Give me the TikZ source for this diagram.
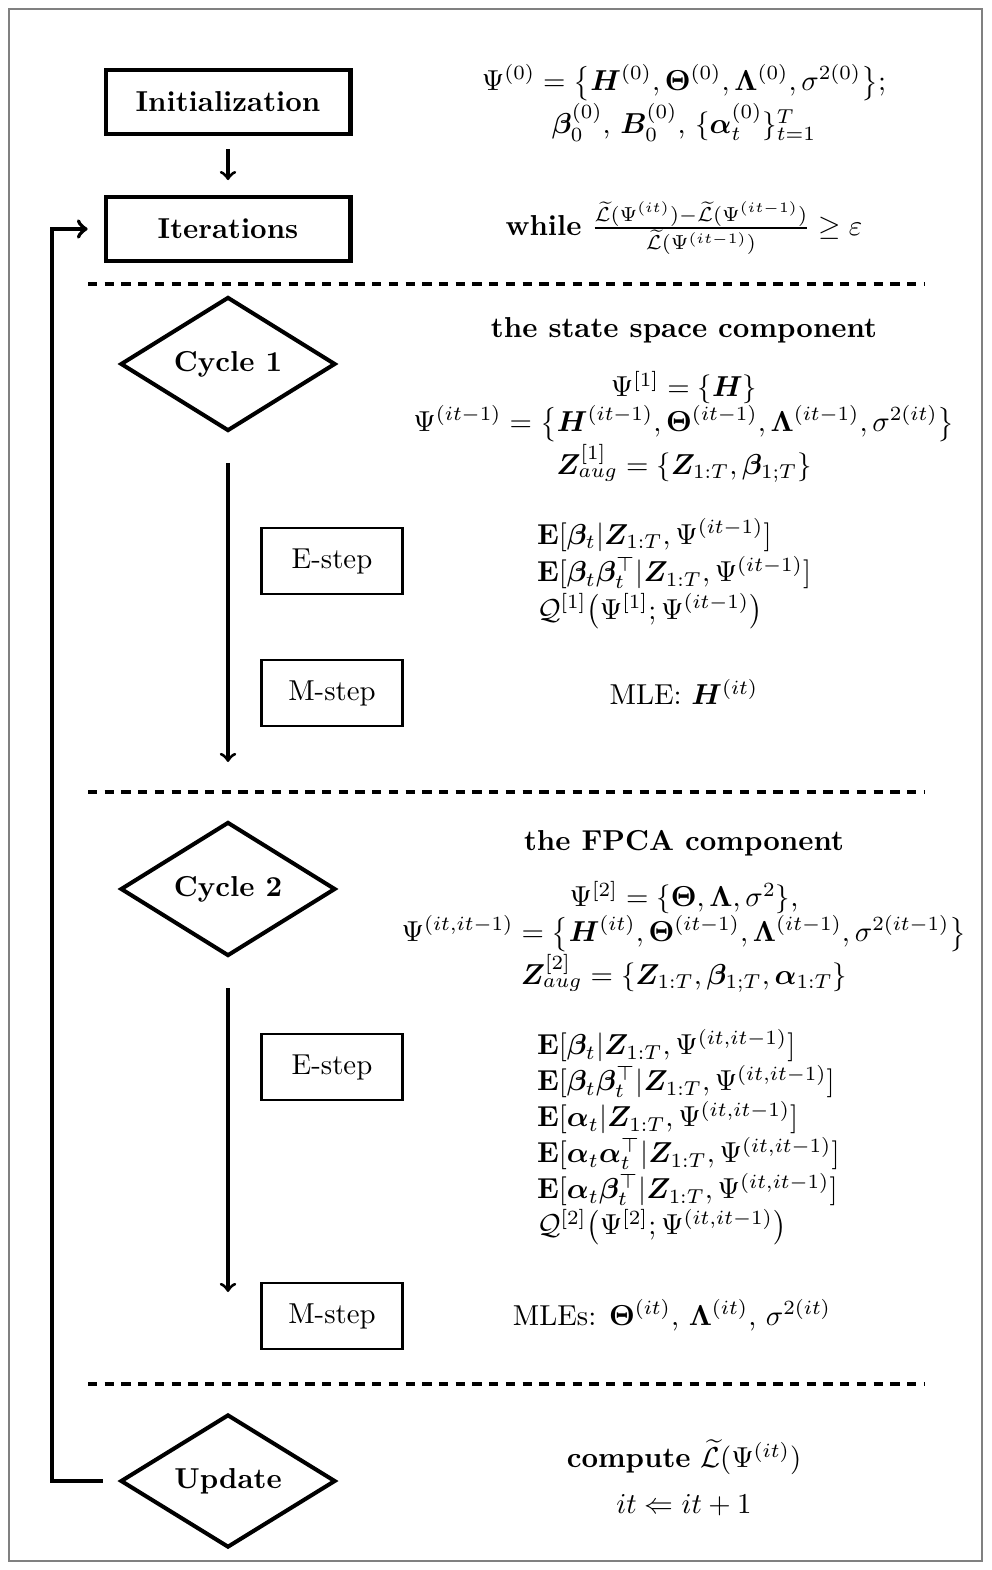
\documentclass[tikz,border=0pt]{standalone}
\usepackage{amsmath,amssymb,bm}
\usetikzlibrary{shapes.geometric}

\begin{document}
\begin{tikzpicture}[x=0.347pt,y=-0.347pt,every node/.style={align=center},
  block/.style={draw,line width=1.4pt,minimum width=85pt,minimum height=22.5pt,font=\bfseries},
  stepbox/.style={draw,line width=0.8pt,minimum width=49pt,minimum height=23pt},
  decision/.style={draw,diamond,line width=1.4pt,minimum width=74.6pt,minimum height=45.8pt,inner sep=0pt,font=\bfseries},
  sep/.style={line width=1.4pt,dash pattern=on 3.2pt off 2.6pt}]
\useasboundingbox (0,0) rectangle (991,1570);
\draw[gray,line width=0.5pt] (9,9) rectangle (982,1561);
% left column
\node[block] (init) at (228,102) {Initialization};
\node[block] (iter) at (228,229) {Iterations};
\node[decision] (cyc1) at (228,364) {Cycle 1};
\node[stepbox] (e1) at (332,561) {E-step};
\node[stepbox] (m1) at (332,693) {M-step};
\node[decision] (cyc2) at (228,889) {Cycle 2};
\node[stepbox] (e2) at (332,1067) {E-step};
\node[stepbox] (m2) at (332,1316) {M-step};
\node[decision] (upd) at (228,1481) {Update};
% right column
\node (initpar) at (684,103) {$\Psi^{(0)}=\big\{\bm{H}^{(0)},\mathbf{\Theta}^{(0)},\mathbf{\Lambda}^{(0)},\sigma^{2(0)}\big\}$;\\ $\bm{\beta}_0^{(0)}$, $\bm{B}_0^{(0)}$, $\{\bm{\alpha}_t^{(0)}\}_{t=1}^T$};
\node (cond) at (684,228) {\textbf{while} $\frac{\widetilde{\mathcal{L}}(\Psi^{(it)})-\widetilde{\mathcal{L}}(\Psi^{(it-1)})}{\widetilde{\mathcal{L}}(\Psi^{(it-1)})}\geq\varepsilon$};
\node (head1) at (684,330) {\textbf{the state space component}};
\node (par1) at (684,427) {$\Psi^{[1]}=\{\bm{H}\}$\\ $\Psi^{(it-1)}=\big\{\bm{H}^{(it-1)},\mathbf{\Theta}^{(it-1)},\mathbf{\Lambda}^{(it-1)},\sigma^{2(it)}\big\}$\\ $\bm{Z}^{[1]}_{aug}=\{\bm{Z}_{1:T},\bm{\beta}_{1;T}\}$};
\node[align=left,anchor=west] (est1) at (527,574) {$\mathbf{E}[\bm{\beta}_t|\bm{Z}_{1:T},\Psi^{(it-1)}]$\\[1pt] $\mathbf{E}[\bm{\beta}_t\bm{\beta}_t^\top|\bm{Z}_{1:T},\Psi^{(it-1)}]$\\[1pt] $\mathcal{Q}^{[1]}\big(\Psi^{[1]};\Psi^{(it-1)}\big)$};
\node (mle1) at (684,692) {MLE: $\bm{H}^{(it)}$};
\node (head2) at (684,843) {\textbf{the FPCA component}};
\node (par2) at (684,937) {$\Psi^{[2]}=\{\mathbf{\Theta},\mathbf{\Lambda},\sigma^2\}$,\\ $\Psi^{(it,it-1)}=\big\{\bm{H}^{(it)},\mathbf{\Theta}^{(it-1)},\mathbf{\Lambda}^{(it-1)},\sigma^{2(it-1)}\big\}$\\ $\bm{Z}^{[2]}_{aug}=\{\bm{Z}_{1:T},\bm{\beta}_{1;T},\bm{\alpha}_{1:T}\}$};
\node[align=left,anchor=west] (est2) at (527,1137) {$\mathbf{E}[\bm{\beta}_t|\bm{Z}_{1:T},\Psi^{(it,it-1)}]$\\[0.5pt] $\mathbf{E}[\bm{\beta}_t\bm{\beta}_t^\top|\bm{Z}_{1:T},\Psi^{(it,it-1)}]$\\[0.5pt] $\mathbf{E}[\bm{\alpha}_t|\bm{Z}_{1:T},\Psi^{(it,it-1)}]$\\[0.5pt] $\mathbf{E}[\bm{\alpha}_t\bm{\alpha}_t^\top|\bm{Z}_{1:T},\Psi^{(it,it-1)}]$\\[0.5pt] $\mathbf{E}[\bm{\alpha}_t\bm{\beta}_t^\top|\bm{Z}_{1:T},\Psi^{(it,it-1)}]$\\[0.5pt] $\mathcal{Q}^{[2]}\big(\Psi^{[2]};\Psi^{(it,it-1)}\big)$};
\node (mle2) at (672,1315) {MLEs: $\mathbf{\Theta}^{(it)}$, $\mathbf{\Lambda}^{(it)}$, $\sigma^{2(it)}$};
\node (updtxt) at (684,1478) {\textbf{compute} $\widetilde{\mathcal{L}}(\Psi^{(it)})$\\[4pt] $it\Leftarrow it+1$};
% separators
\draw[sep] (88,284)--(925,284);
\draw[sep] (88,792)--(925,792);
\draw[sep] (88,1384)--(925,1384);
% arrows
\coordinate (c1a) at (228,463); \coordinate (c1b) at (228,762);
\coordinate (c2a) at (228,988); \coordinate (c2b) at (228,1292);
\coordinate (back) at (52,1481);
\draw[->,line width=1.1pt,shorten <=4.5pt,shorten >=5pt] (init)--(iter);
\draw[->,line width=1.1pt] (c1a)--(c1b);
\draw[->,line width=1.1pt] (c2a)--(c2b);
\draw[->,line width=1.4pt,shorten <=5.5pt,shorten >=5.5pt] (upd.west)--(back)|-(iter.west);
\end{tikzpicture}
\end{document}
